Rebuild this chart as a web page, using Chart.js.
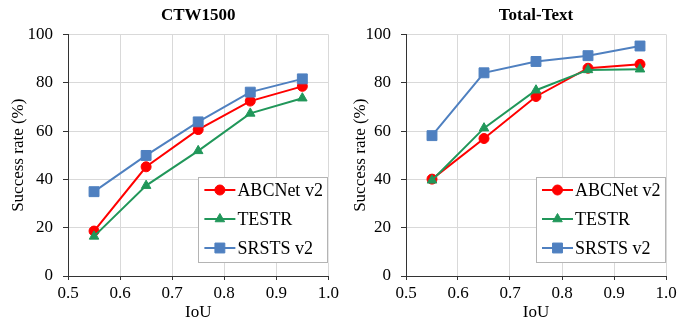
<!DOCTYPE html>
<html>
<head>
<meta charset="utf-8">
<script src="https://cdn.jsdelivr.net/npm/chart.js@4.4.0/dist/chart.umd.min.js"></script>
<style>
  html, body { margin: 0; padding: 0; background: #fff; }
  #wrap { position: relative; width: 684px; height: 324px; }
  canvas { position: absolute; top: 0; }
</style>
</head>
<body>
<div id="wrap">
  <canvas id="ctw" width="342" height="324" style="left:0"></canvas>
  <canvas id="total" width="342" height="324" style="left:342px"></canvas>
</div>
<script>
"use strict";

var iou = [0.55, 0.65, 0.75, 0.85, 0.95];
var seriesNames = ["ABCNet v2", "TESTR", "SRSTS v2"];
var xTicks = [0.5, 0.6, 0.7, 0.8, 0.9, 1.0];
var yTicks = [0, 20, 40, 60, 80, 100];

// CTW1500
var ctwAbcnet = [18.6, 45.2, 60.6, 72.4, 78.5];
var ctwTestr = [16.4, 37.4, 51.8, 67.3, 73.6];
var ctwSrsts = [34.9, 49.9, 63.8, 76.1, 81.6];

// Total-Text
var totAbcnet = [40.1, 56.9, 74.3, 86.0, 87.6];
var totTestr = [39.6, 61.2, 76.9, 85.3, 85.6];
var totSrsts = [58.1, 84.1, 88.8, 91.2, 95.2];

var serif = "'Liberation Serif', 'Times New Roman', serif";
var colors = ['#ff0000', '#21975a', '#4f80c0'];
var styles = ['circle', 'triangle', 'rect'];
var radii = [5, 5.5, 7];

function marker(ctx, style, r, x, y) {
    ctx.beginPath();
    if (style === 'circle') {
        ctx.arc(x, y, r, 0, Math.PI * 2);
    } else if (style === 'triangle') {
        var a = 0;
        ctx.moveTo(x + Math.sin(a) * r, y - Math.cos(a) * r);
        a += Math.PI * 2 / 3;
        ctx.lineTo(x + Math.sin(a) * r, y - Math.cos(a) * r);
        a += Math.PI * 2 / 3;
        ctx.lineTo(x + Math.sin(a) * r, y - Math.cos(a) * r);
        ctx.closePath();
    } else {
        var s = r * Math.SQRT1_2;
        ctx.rect(x - s, y - s, 2 * s, 2 * s);
    }
    ctx.fill();
    ctx.stroke();
}

// legend drawn inside the plot, bottom right
var boxLegend = {
    id: 'boxLegend',
    afterDatasetsDraw: function (chart, args, opts) {
        var ctx = chart.ctx;
        var area = chart.chartArea;
        var left = area.right - opts.width;
        var top = area.bottom - opts.bottomGap - opts.height;
        ctx.save();
        ctx.fillStyle = '#fff';
        ctx.fillRect(left, top, opts.width, opts.height);
        ctx.strokeStyle = '#b4b4b4';
        ctx.lineWidth = 1;
        ctx.strokeRect(Math.round(left) + 0.5, Math.round(top) + 0.5, opts.width - 1, opts.height - 1);
        chart.data.datasets.forEach(function (ds, i) {
            var y = top + opts.firstRow + i * opts.rowGap;
            ctx.strokeStyle = ds.borderColor;
            ctx.fillStyle = ds.backgroundColor;
            ctx.lineWidth = 2;
            ctx.beginPath();
            ctx.moveTo(left + 6, y);
            ctx.lineTo(left + 37, y);
            ctx.stroke();
            ctx.lineWidth = 1;
            marker(ctx, ds.pointStyle, ds.pointRadius, left + 21.5, y);
            ctx.fillStyle = '#000';
            ctx.font = '18px ' + serif;
            ctx.textBaseline = 'middle';
            ctx.textAlign = 'left';
            ctx.fillText(ds.label, left + 39, y + 1);
        });
        ctx.restore();
    }
};

function series(values) {
    return values.map(function (v, i) { return { x: iou[i], y: v }; });
}

function makeChart(id, title, lists, yWidth, rightPad) {
    var datasets = lists.map(function (vals, i) {
        return {
            label: seriesNames[i],
            data: series(vals),
            borderColor: colors[i],
            backgroundColor: colors[i],
            borderWidth: 2,
            pointStyle: styles[i],
            pointRadius: radii[i],
            pointBorderWidth: 1,
            order: 3 - i
        };
    });
    return new Chart(document.getElementById(id), {
        type: 'line',
        data: { datasets: datasets },
        plugins: [boxLegend],
        options: {
            responsive: false,
            animation: false,
            events: [],
            layout: { padding: { left: 0, right: rightPad, top: 0, bottom: 0 } },
            plugins: {
                legend: { display: false },
                tooltip: { enabled: false },
                title: {
                    display: true,
                    fullSize: false,
                    text: title,
                    color: '#000',
                    font: { family: serif, size: 17, weight: 'bold' },
                    padding: { top: 5, bottom: 9 }
                },
                boxLegend: { width: 130, height: 86, bottomGap: 13, firstRow: 13, rowGap: 29 }
            },
            scales: {
                x: {
                    type: 'linear',
                    min: xTicks[0],
                    max: xTicks[xTicks.length - 1],
                    afterBuildTicks: function (scale) {
                        scale.ticks = xTicks.map(function (v) { return { value: v }; });
                    },
                    afterFit: function (scale) { scale.height = 48; },
                    ticks: {
                        color: '#000',
                        font: { family: serif, size: 17 },
                        padding: 3,
                        maxRotation: 0,
                        callback: function (v) { return Number(v).toFixed(1); }
                    },
                    grid: { color: '#d9d9d9', tickColor: '#333', tickLength: 4 },
                    border: { color: '#333', width: 1 },
                    title: {
                        display: true,
                        text: 'IoU',
                        color: '#000',
                        font: { family: serif, size: 17 },
                        padding: { top: 0, bottom: 1 }
                    }
                },
                y: {
                    min: yTicks[0],
                    max: yTicks[yTicks.length - 1],
                    afterBuildTicks: function (scale) {
                        scale.ticks = yTicks.map(function (v) { return { value: v }; });
                    },
                    afterFit: function (scale) { scale.width = yWidth; },
                    ticks: {
                        color: '#000',
                        font: { family: serif, size: 17 },
                        padding: 10
                    },
                    grid: { color: '#d9d9d9', tickColor: '#333', tickLength: 5 },
                    border: { color: '#333', width: 1 },
                    title: {
                        display: true,
                        text: 'Success rate (%)',
                        color: '#000',
                        font: { family: serif, size: 17 },
                        padding: { top: 8, bottom: 0 }
                    }
                }
            }
        }
    });
}

makeChart('ctw', 'CTW1500', [ctwAbcnet, ctwTestr, ctwSrsts], 68, 13);
makeChart('total', 'Total-Text', [totAbcnet, totTestr, totSrsts], 64, 18);
</script>
</body>
</html>
